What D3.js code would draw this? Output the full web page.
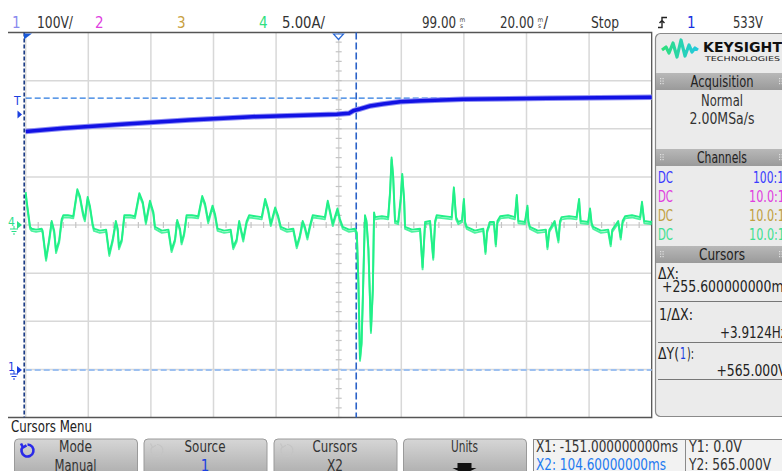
<!DOCTYPE html>
<html>
<head>
<meta charset="utf-8">
<script src="https://cdn.jsdelivr.net/npm/d3@7"></script>
<style>
    html, body { margin: 0; padding: 0; background: #fff; overflow: hidden; }
    text { font-family: "Liberation Sans Narrow", "DejaVu Sans Condensed", sans-serif; }
</style>
</head>
<body>
<div id="scope"></div>
<script>
(function(){
    // ---- data --------------------------------------------------------
    // channel 1, 100V/div
    var ch1Time  = [-1, 10.9, 31.0, 51.2, 71.5, 98.4, 102.3, 103.7, 105.7, 109.0, 113.1, 118.6, 125.3, 138.7, 165.6, 199];
    var ch1Volts = [495.6, 502.2, 511.2, 519.5, 526.3, 531.3, 533.4, 538.8, 542.3, 548.6, 552.7, 557.5, 559.6, 562.5, 564.6, 566.7];

    // channel 4, 5A/div
    var ch4Time = [
        -1.0, -0.7, 0.4, 0.9, 2.3, 4.1, 4.4, 5.5, 6.5, 7.3,
        8.1, 8.7, 9.7, 10.5, 11.0, 12.5, 14.2, 15.5, 16.3, 17.4,
        17.9, 18.8, 19.5, 20.4, 20.8, 22.7, 24.7, 25.7, 26.8, 27.8,
        28.4, 28.8, 29.7, 30.5, 32.3, 33.9, 35.3, 36.4, 37.4, 38.7,
        39.8, 40.3, 42.5, 44.6, 45.6, 46.7, 47.4, 48.3, 48.8, 49.6,
        50.4, 52.1, 54.1, 55.4, 56.3, 57.3, 58.7, 59.5, 60.3, 62.4,
        64.5, 65.3, 66.4, 67.2, 68.5, 69.6, 70.4, 72.3, 74.4, 75.5,
        76.4, 77.3, 78.7, 79.6, 80.5, 82.5, 84.5, 85.6, 86.6, 87.5,
        88.2, 89.0, 89.8, 90.7, 92.7, 94.6, 95.5, 96.2, 97.1, 98.6,
        99.4, 100.3, 102.3, 104.2, 104.8, 105.3, 105.8, 106.3, 106.7, 107.1,
        107.4, 107.9, 108.5, 109.0, 109.3, 109.9, 110.3, 110.6, 112.8, 114.8,
        115.4, 115.9, 116.4, 117.0, 118.0, 118.8, 119.3, 119.9, 120.2, 122.4,
        125.0, 125.8, 126.6, 128.2, 129.2, 129.8, 130.3, 132.6, 135.1, 135.8,
        136.5, 137.2, 138.4, 139.0, 139.4, 139.9, 142.5, 145.2, 145.9, 146.4,
        147.3, 148.6, 149.2, 149.7, 150.6, 153.1, 155.3, 155.9, 156.4, 158.5,
        159.3, 159.6, 160.1, 162.6, 165.2, 165.7, 166.3, 168.0, 169.2, 169.7,
        170.2, 172.6, 175.0, 175.8, 176.3, 178.7, 179.3, 179.8, 180.3, 182.8,
        185.1, 185.9, 186.4, 188.3, 189.1, 189.7, 190.5, 192.7, 195.3, 195.9,
        196.6, 198.7, 199.0
    ];
    var ch4Amps = [
        3.3, 2.4, -0.3, -0.5, -0.6, -0.5, -0.7, -3.6, -1.6, 0.3,
        -0.7, -2.8, -1.7, 0.5, 0.9, 0.9, 0.8, 3.6, 2.9, 1.0,
        0.5, 2.8, 1.9, 0, -0.5, -0.7, -0.6, -3.1, -1.6, 0.3,
        -0.5, -2.4, -1.6, 0.9, 0.9, 0.8, 3.2, 2.3, 0.2, 2.4,
        1.2, -0.3, -0.7, -0.6, -2.7, -1.6, 0.4, -0.5, -1.9, -1.0,
        0.9, 0.9, 0.8, 2.9, 2.1, 0.3, 1.9, 1.0, -0.5, -0.7,
        -0.6, -2.4, -1.6, 0.3, -1.6, 0.3, 0.9, 0.8, 0.7, 2.6,
        1.6, 0, 1.7, 0.9, -0.3, -0.6, -0.5, -2.3, -1.2, 0.3,
        -0.3, -1.4, -0.2, 0.9, 0.8, 0.7, 2.4, 1.4, 0, 1.6,
        0.5, -0.3, -0.6, -0.5, -0.9, -6.1, -14.0, -12.3, -7.8, -2.6,
        0.9, 0.3, -2.6, -7.8, -11.1, -6.8, 1.2, 0.7, 0.8, 0.7,
        3.3, 6.9, 5.0, 0.3, 0.2, 2.6, 5.2, 2.6, -0.3, -0.6,
        -0.5, -4.5, 0.2, 0.3, -3.5, 0.3, 0.9, 0.8, 0.7, 3.8,
        0.7, 0.2, 0.4, 2.6, 0.2, -0.3, -0.7, -0.5, -2.9, -0.7,
        0.2, 0.2, -2.1, 0.3, 0.8, 0.9, 0.7, 3.0, 0.3, 0.2,
        1.9, 0.3, -0.3, -0.7, -0.6, -2.4, -0.6, 0.3, -1.7, 0.3,
        0.7, 0.8, 0.7, 2.6, 0.3, 0.2, 1.6, 0.1, -0.3, -0.7,
        -0.6, -2.1, -0.6, 0.3, -1.4, 0.3, 0.8, 0.9, 0.7, 2.3,
        0.3, 0.2, 0.3
    ];

    var cursorX = [-151, 104.6];     // ms
    var cursorY = [0, 565];          // V on channel 1

    var headerLabels  = ['1', '100V/', '2', '3', '4', '5.00A/', 'Stop', '1', '533V'];
    var timebaseLabels = ['99.00', '20.00'];
    var channelCoupling = ['DC', 'DC', 'DC', 'DC'];
    var channelProbe    = ['100:1', '10.0:1', '10.0:1', '10.0:1'];
    var softkeyTop    = ['Mode', 'Source', 'Cursors', 'Units'];
    var softkeyBottom = ['Manual', '1', 'X2', null];

    // ---- layout ------------------------------------------------------
    var WIDTH = 782, HEIGHT = 471;
    var GRID_L = 25.7, GRID_R = 651.7, GRID_T = 32.5, GRID_B = 417.5;
    var FS = 15;

    var HEADER_X     = [12, 37, 95, 177, 259, 282, 591, 687, 733];
    var HEADER_W     = [0, 36, 0, 0, 0, 43, 28, 0, 30];
    var HEADER_COLOR = ['#8a8aee', '#333', '#e040e0', '#c8a040', '#30e080', '#333', '#333', '#1530e0', '#333'];
    var CH_COLOR     = ['#3a3aff', '#e040e0', '#c0a040', '#40e090'];
    var KEY_X        = [14.5, 144, 274, 403.5];
    var KEY_TOP_W    = [33, 41, 45, 27];
    var KEY_BOT_W    = [42, 0, 16, 0];
    var KEY_BOT_COLOR = ['#333', '#1a40e0', '#333', '#333'];

    var svg, x, y4, y1;

    document.addEventListener('DOMContentLoaded', function() {
        svg = d3.select('#scope').append('svg')
            .attr('width', WIDTH)
            .attr('height', HEIGHT);

        x  = d3.scaleLinear().domain([-1, 199]).range([GRID_L, GRID_R]);
        y4 = d3.scaleLinear().domain([-20, 20]).range([GRID_B, GRID_T]);
        // ch1 ground sits at 370px, 100V per division
        var vPerPx = 100 / ((GRID_B - GRID_T) / 8);
        y1 = d3.scaleLinear().domain([-(GRID_B - 370) * vPerPx, (370 - GRID_T) * vPerPx]).range([GRID_B, GRID_T]);

        svg.append('defs');
        drawHeader();
        drawGrid();
        drawCursors();
        drawTraces();
        drawMarkers();
        drawSidePanel();
        drawSoftkeys();
    });

    // text helper: squeezes the string to width w when w is given
    function txt(g, s, tx, ty, color, w, anchor){
        var t = g.append('text').attr('x', tx).attr('y', ty).attr('fill', color || '#333').text(s);
        if (anchor) t.attr('text-anchor', anchor);
        if (w) t.attr('textLength', w).attr('lengthAdjust', 'spacingAndGlyphs');
        return t;
    }

    function drawHeader(){
        var g = svg.append('g').attr('font-size', FS);
        headerLabels.forEach(function(s, i){
            txt(g, s, HEADER_X[i], 28, HEADER_COLOR[i], HEADER_W[i]);
        });

        // delay & timebase with the little stacked "ms"
        [422, 500].forEach(function(hx, i){
            txt(g, timebaseLabels[i], hx, 28, '#333', 34);
            g.append('text').attr('x', hx + 37.5).attr('y', 21.5).attr('font-size', 6.5).attr('fill', '#444').text('m');
            g.append('text').attr('x', hx + 38).attr('y', 28).attr('font-size', 6.5).attr('fill', '#444').text('s');
            if (i === 1) txt(g, '/', hx + 43.5, 28, '#333');
        });

        // rising edge trigger glyph
        g.append('path')
            .attr('d', 'M658,27.5 h4 v-10 h5 M659.5,23 l2.5,-2.5 l2.5,2.5')
            .attr('fill', 'none').attr('stroke', '#222').attr('stroke-width', 1.4);
    }

    function drawGrid(){
        var g = svg.append('g').attr('class', 'grid');
        var xTicks = d3.range(-1, 200, 20);
        var yTicks = d3.range(-20, 21, 5);

        g.selectAll('line.v').data(xTicks.slice(0, -1)).enter().append('line')
            .attr('x1', function(d){ return x(d) }).attr('x2', function(d){ return x(d) })
            .attr('y1', GRID_T).attr('y2', GRID_B)
            .attr('stroke', '#d8d8d8').attr('stroke-width', 1.5);

        g.selectAll('line.h').data(yTicks.slice(1, -1)).enter().append('line')
            .attr('x1', GRID_L).attr('x2', GRID_R)
            .attr('y1', function(d){ return y4(d) }).attr('y2', function(d){ return y4(d) })
            .attr('stroke', '#d8d8d8').attr('stroke-width', 1.5);

        // minor ticks on the centre axes
        var cx = x(99), cy = y4(0);
        g.selectAll('line.mx').data(d3.range(-1, 199, 4)).enter().append('line')
            .attr('x1', function(d){ return x(d) }).attr('x2', function(d){ return x(d) })
            .attr('y1', cy - 3).attr('y2', cy + 3)
            .attr('stroke', '#c4c4c4').attr('stroke-width', 1.2);
        g.selectAll('line.my').data(d3.range(-20, 20, 1)).enter().append('line')
            .attr('x1', cx - 3).attr('x2', cx + 3)
            .attr('y1', function(d){ return y4(d) }).attr('y2', function(d){ return y4(d) })
            .attr('stroke', '#c4c4c4').attr('stroke-width', 1.2);

        // frame
        g.append('path')
            .attr('d', 'M8,' + GRID_T + 'H' + GRID_R + 'V' + GRID_B + 'H8')
            .attr('fill', 'none').attr('stroke', '#555').attr('stroke-width', 1.3);
    }

    function drawCursors(){
        var g = svg.append('g').attr('class', 'cursors');
        var xs = cursorX.map(function(t){ return Math.max(x(t), GRID_L - 1.5) });
        var xStyle = [{ c: '#1c3c86', dash: '4,2' }, { c: '#2a62c8', dash: '7,3' }];
        var yStyle = [{ c: '#9dc0f0', dash: '6,3', w: 2 }, { c: '#2a7ae0', dash: '6,3', w: 1.3 }];

        g.selectAll('line.cy').data(cursorY).enter().append('line')
            .attr('x1', GRID_L).attr('x2', GRID_R)
            .attr('y1', function(d){ return y1(d) }).attr('y2', function(d){ return y1(d) })
            .attr('stroke', function(d, i){ return yStyle[i].c })
            .attr('stroke-width', function(d, i){ return yStyle[i].w })
            .attr('stroke-dasharray', function(d, i){ return yStyle[i].dash });

        g.selectAll('line.cx').data(xs).enter().append('line')
            .attr('x1', function(d){ return d }).attr('x2', function(d){ return d })
            .attr('y1', GRID_T).attr('y2', GRID_B)
            .attr('stroke', function(d, i){ return xStyle[i].c })
            .attr('stroke-width', 1.6)
            .attr('stroke-dasharray', function(d, i){ return xStyle[i].dash });
    }

    function drawTraces(){
        var g = svg.append('g').attr('class', 'traces');

        var ch4 = d3.zip(ch4Time, ch4Amps);
        var line4 = d3.line().x(function(d){ return x(d[0]) }).y(function(d){ return y4(d[1]) });
        [-1.1, 1.1].forEach(function(off){
            g.append('path').datum(ch4)
                .attr('d', line4)
                .attr('transform', 'translate(0,' + off + ')')
                .attr('fill', 'none')
                .attr('stroke', '#22f088')
                .attr('stroke-width', 1.9)
                .attr('stroke-linejoin', 'round')
                .attr('opacity', off < 0 ? 1 : 0.8);
        });

        var ch1 = d3.zip(ch1Time, ch1Volts);
        var line1 = d3.line().x(function(d){ return x(d[0]) }).y(function(d){ return y1(d[1]) });
        g.append('path').datum(ch1)
            .attr('d', line1)
            .attr('fill', 'none')
            .attr('stroke', '#8c8cf4')
            .attr('stroke-width', 5.5);
        g.append('path').datum(ch1)
            .attr('d', line1)
            .attr('fill', 'none')
            .attr('stroke', '#1212e4')
            .attr('stroke-width', 3.6);
    }

    function drawMarkers(){
        var g = svg.append('g').attr('class', 'markers').attr('font-size', 12);

        // trigger position & time reference markers on top edge
        g.append('path').attr('d', 'M24,33.5 h8 l-8,6 z').attr('fill', '#1a5ad8');
        g.append('path').attr('d', 'M333.5,34 h10 l-5,5.5 z').attr('fill', '#fff')
            .attr('stroke', '#2a6ad8').attr('stroke-width', 1.2);

        // trigger level
        txt(g, 'T', 14, 105, '#1a40e0');
        g.append('path').attr('d', 'M17.5,110.5 l4.5,4 l-4.5,4 z').attr('fill', '#1a40e0');

        // channel ground references
        [{ label: '4', y: y4(0), color: '#2ae08a' }, { label: '1', y: y1(0), color: '#1a40e0' }].forEach(function(d){
            txt(g, d.label, 8, d.y + 1, d.color);
            g.append('path').attr('d', 'M17,' + (d.y - 4) + ' l5,4 l-5,4 z').attr('fill', d.color);
            g.append('path')
                .attr('d', 'M14,' + (d.y + 1) + ' v3 M10,' + (d.y + 4) + ' h8 M11.5,' + (d.y + 6.5) + ' h5 M13,' + (d.y + 9) + ' h2')
                .attr('fill', 'none').attr('stroke', d.color).attr('stroke-width', 1);
        });
    }

    function panelBar(g, y0, label, w){
        g.append('rect').attr('x', 656).attr('y', y0).attr('width', 130).attr('height', 17)
            .attr('fill', 'url(#barGrad)');
        txt(g, label, 722, y0 + 14, '#222', w, 'middle');
        [660, 779].forEach(function(gx){
            for (var r = 0; r < 3; r++) for (var c = 0; c < 2; c++)
                g.append('rect').attr('x', gx + c * 2.5).attr('y', y0 + 5 + r * 2.5)
                    .attr('width', 1.2).attr('height', 1.2).attr('fill', '#e0e0e0');
        });
    }

    function drawSidePanel(){
        var defs = svg.select('defs');
        var bar = defs.append('linearGradient').attr('id', 'barGrad').attr('x1', 0).attr('y1', 0).attr('x2', 0).attr('y2', 1);
        bar.append('stop').attr('offset', '0%').attr('stop-color', '#b8b8b8');
        bar.append('stop').attr('offset', '100%').attr('stop-color', '#9a9a9a');
        var logo = defs.append('linearGradient').attr('id', 'logoGrad').attr('x1', 0).attr('y1', 0).attr('x2', 1).attr('y2', 0);
        logo.append('stop').attr('offset', '0%').attr('stop-color', '#2ee07a');
        logo.append('stop').attr('offset', '100%').attr('stop-color', '#22c8e0');

        var g = svg.append('g').attr('class', 'panel').attr('font-size', FS);
        g.append('rect').attr('x', 655.5).attr('y', 33.5).attr('width', 140).attr('height', 383)
            .attr('rx', 5).attr('fill', '#ebebeb').attr('stroke', '#8a8a8a').attr('stroke-width', 1.2);

        // logo
        g.append('path')
            .attr('d', 'M662,50 L666,47 L669,53 L673,43 L677,57 L681,40 L685,56 L689,45 L692,52 L695,48 L698,50')
            .attr('fill', 'none').attr('stroke', 'url(#logoGrad)').attr('stroke-width', 3.2)
            .attr('stroke-linejoin', 'round');
        txt(g, 'KEYSIGHT', 703, 52, '#111', 79)
            .attr('font-weight', 'bold').attr('font-size', 13.5)
            .attr('font-family', '"DejaVu Sans", sans-serif');
        txt(g, 'TECHNOLOGIES', 705, 60.5, '#222', 75)
            .attr('font-size', 6.5)
            .attr('font-family', '"DejaVu Sans", sans-serif');

        panelBar(g, 73, 'Acquisition', 63);
        txt(g, 'Normal', 722, 106, '#333', 42, 'middle');
        txt(g, '2.00MSa/s', 722, 124, '#333', 65, 'middle');

        panelBar(g, 149, 'Channels', 50);
        channelCoupling.forEach(function(s, i){
            txt(g, s, 658, 183 + i * 19, CH_COLOR[i], 15);
            txt(g, channelProbe[i], i === 0 ? 753 : 749, 183 + i * 19, CH_COLOR[i], i === 0 ? 31 : 36);
        });

        panelBar(g, 246, 'Cursors', 46);
        txt(g, 'ΔX:', 658, 279, '#222', 21);
        txt(g, '+255.600000000ms', 662, 292, '#222', 128);
        txt(g, '1/ΔX:', 659, 320, '#222', 34);
        txt(g, '+3.9124Hz', 720, 338, '#222', 67);
        // ΔY(1): with the source number in channel colour
        txt(g, 'ΔY(', 658, 359, '#222', 21);
        txt(g, '1', 680, 359, '#1a40e0', 6);
        txt(g, '):', 687, 359, '#222', 7);
        txt(g, '+565.000V', 716.5, 376, '#222', 70);
        [301.5, 342.5, 379.5].forEach(function(ly){
            g.append('line').attr('x1', 658).attr('x2', 782).attr('y1', ly).attr('y2', ly)
                .attr('stroke', '#777').attr('stroke-width', 1.2);
        });
    }

    function drawSoftkeys(){
        var defs = svg.select('defs');
        var kg = defs.append('linearGradient').attr('id', 'keyGrad').attr('x1', 0).attr('y1', 0).attr('x2', 0).attr('y2', 1);
        kg.append('stop').attr('offset', '0%').attr('stop-color', '#d6d6d6');
        kg.append('stop').attr('offset', '100%').attr('stop-color', '#a9a9a9');

        var g = svg.append('g').attr('class', 'softkeys').attr('font-size', FS);
        txt(g, 'Cursors Menu', 11, 432, '#222', 81);

        softkeyTop.forEach(function(top, i){
            var k = g.append('g').attr('transform', 'translate(' + KEY_X[i] + ',439)');
            k.append('rect').attr('width', 123).attr('height', 40).attr('rx', 4)
                .attr('fill', 'url(#keyGrad)').attr('stroke', '#9a9a9a');
            txt(k, top, 61, 13, '#333', KEY_TOP_W[i], 'middle');
            if (softkeyBottom[i]) txt(k, softkeyBottom[i], 61, 31.5, KEY_BOT_COLOR[i], KEY_BOT_W[i], 'middle');
            if (i < 3) {
                k.append('path')
                    .attr('d', 'M13,3.5 a6,6 0 1 1 -4.5,2 M6.5,2.5 l2,4 l3.5,-2.2')
                    .attr('transform', 'translate(0,2)')
                    .attr('fill', 'none')
                    .attr('stroke', i === 0 ? '#2a2ae8' : '#c4c4c4')
                    .attr('stroke-width', i === 0 ? 2.6 : 1.2);
            } else {
                k.append('path').attr('d', 'M54,24 h14 v5 h5 l-12,6 l-12,-6 h5 z').attr('fill', '#111');
            }
        });

        // readout box
        var r = g.append('g');
        r.append('rect').attr('x', 533.5).attr('y', 439.5).attr('width', 260).attr('height', 40)
            .attr('fill', '#f2f2f2').attr('stroke', '#8a8a8a');
        r.append('line').attr('x1', 685.5).attr('x2', 685.5).attr('y1', 440).attr('y2', 471).attr('stroke', '#8a8a8a');
        txt(r, 'X1: -151.000000000ms', 536, 452, '#333', 142);
        txt(r, 'X2: 104.60000000ms', 536, 470, '#1e7af0', 130);
        txt(r, 'Y1: 0.0V', 689, 452, '#333', 53);
        txt(r, 'Y2: 565.000V', 689, 470, '#333', 82);
    }

})();
</script>
</body>
</html>
